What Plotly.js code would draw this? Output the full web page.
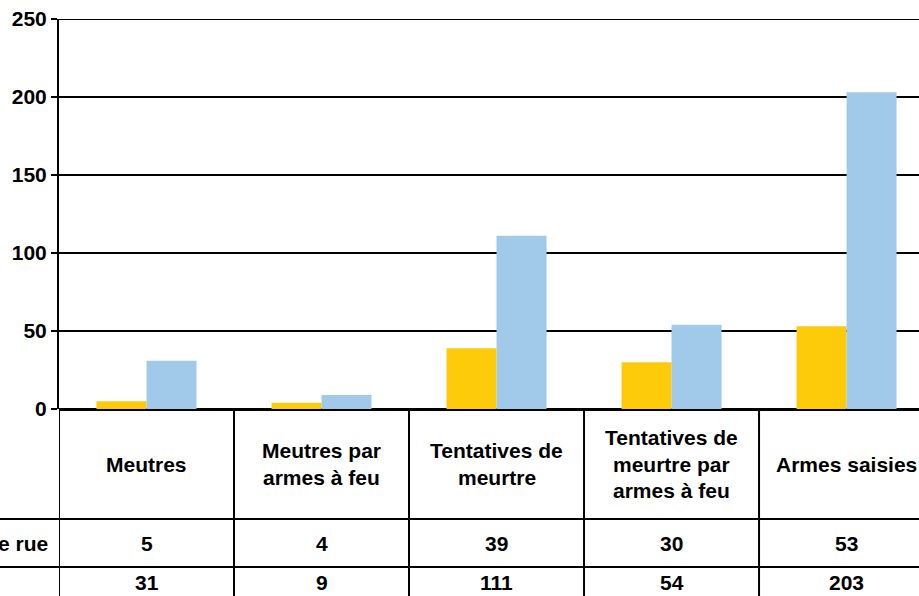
<!DOCTYPE html>
<html><head><meta charset="utf-8">
<script src="https://cdn.plot.ly/plotly-3.0.1.min.js"></script>
<style>html,body{margin:0;padding:0;background:#fff;}#chart{width:919px;height:596px;}</style>
</head><body><div id="chart"></div>
<script>
var categories = ["Meutres", "Meutres par<br>armes à feu", "Tentatives de<br>meurtre", "Tentatives de<br>meurtre par<br>armes à feu", "Armes saisies"];
var seriesNames = ["Gangs de rue", "Total"];
var gangValues = [5, 4, 39, 30, 53];
var totalValues = [31, 9, 111, 54, 203];
var yTicks = [0, 50, 100, 150, 200, 250];

var FONT = "Liberation Sans, Arial, Helvetica, sans-serif";
var SIZE = 21;
var xIdx = categories.map(function(_, i){ return i; });

var traces = [
  {type:'bar', x:xIdx, y:gangValues, name:seriesNames[0], marker:{color:'#FECB0A'}, hoverinfo:'y'},
  {type:'bar', x:xIdx, y:totalValues, name:seriesNames[1], marker:{color:'#A0C9EA'}, hoverinfo:'y'}
];

function py(p){ return (409 - p) / 390; }
function b(t){ return '<b>' + t + '</b>'; }
var tfont = {family:FONT, size:SIZE, color:'#000'};
var shapes = [];
var annotations = [];
shapes.push({type:'line', xref:'paper', yref:'y', x0:-6/860, x1:1, y0:yTicks[yTicks.length-1], y1:yTicks[yTicks.length-1], line:{color:'#000', width:2}});
[519, 567].forEach(function(p){
  shapes.push({type:'line', xref:'paper', yref:'paper', x0:-59/860, x1:1, y0:py(p), y1:py(p), line:{color:'#000', width:2}});
});
for (var k = -0.5; k < categories.length - 0.5; k += 1) {
  shapes.push({type:'line', xref:'x', yref:'paper', x0:k, x1:k, y0:0, y1:py(600), line:{color:'#000', width:2}});
}
categories.forEach(function(c, i){
  var lines = c.split('<br>');
  var n = lines.length;
  lines.forEach(function(t, j){
    var yc = 464 + (j - (n - 1) / 2) * 27;
    annotations.push({xref:'x', yref:'paper', x:i, y:py(yc), text:b(t), showarrow:false, xanchor:'center', yanchor:'middle', font:tfont});
  });
  annotations.push({xref:'x', yref:'paper', x:i, y:py(543), text:b(String(gangValues[i])), showarrow:false, xanchor:'center', yanchor:'middle', font:tfont});
  annotations.push({xref:'x', yref:'paper', x:i, y:py(582), text:b(String(totalValues[i])), showarrow:false, xanchor:'center', yanchor:'middle', font:tfont});
});
annotations.push({xref:'paper', yref:'paper', x:-9/860, y:py(543), text:b(seriesNames[0]), showarrow:false, xanchor:'right', yanchor:'middle', font:tfont});

var layout = {
  width:919, height:596,
  margin:{l:59, r:0, t:19, b:187, pad:0},
  paper_bgcolor:'#fff', plot_bgcolor:'#fff',
  showlegend:false,
  barmode:'group', bargap:0.4286, bargroupgap:0,
  xaxis:{range:[-0.5, 4.414], showticklabels:false, ticks:'', showgrid:false, zeroline:false, showline:false, fixedrange:true},
  yaxis:{range:[0, 250], tickvals:yTicks, ticktext:yTicks.map(function(v){return b(String(v));}),
    ticks:'outside', ticklen:6, tickwidth:2, tickcolor:'#000',
    showgrid:true, gridcolor:'#000', gridwidth:2, zeroline:true, zerolinecolor:'#000', zerolinewidth:3,
    showline:true, linecolor:'#000', linewidth:2,
    tickfont:tfont, fixedrange:true},
  shapes:shapes,
  annotations:annotations
};
Plotly.newPlot('chart', traces, layout, {displayModeBar:false, staticPlot:true});
</script></body></html>
